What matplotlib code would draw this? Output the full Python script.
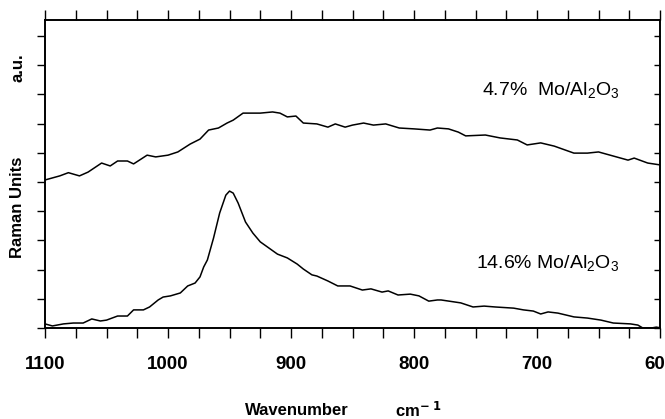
import matplotlib
matplotlib.use('agg')
import matplotlib.pyplot as plt
from matplotlib.ticker import MultipleLocator, NullFormatter

plt.rcParams['font.family'] = ['Liberation Sans', 'DejaVu Sans']
plt.rcParams['mathtext.fontset'] = 'custom'
plt.rcParams['mathtext.rm'] = 'Liberation Sans'
plt.rcParams['mathtext.it'] = 'Liberation Sans'

# 4.7% Mo/Al2O3 spectrum (upper trace)
wn_low_loading = [1100, 1088, 1081, 1072, 1065, 1054, 1047, 1041, 1033, 1028,
                  1017, 1010, 1000, 992, 982, 974, 967, 959, 952, 947,
                  939, 925, 915, 909, 903, 896, 890, 879, 870, 864,
                  856, 850, 841, 833, 823, 812, 800, 787, 781, 772,
                  764, 758, 742, 730, 716, 708, 697, 686, 670, 659,
                  650, 638, 626, 621, 610, 599]
int_low_loading = [5.07, 5.21, 5.32, 5.21, 5.34, 5.65, 5.55, 5.72, 5.72, 5.62,
                   5.92, 5.86, 5.92, 6.03, 6.30, 6.47, 6.78, 6.85, 7.02, 7.12,
                   7.36, 7.36, 7.40, 7.36, 7.23, 7.26, 7.02, 6.99, 6.88, 6.99,
                   6.88, 6.95, 7.02, 6.95, 6.99, 6.85, 6.82, 6.78, 6.85, 6.82,
                   6.71, 6.58, 6.61, 6.51, 6.44, 6.27, 6.34, 6.23, 5.99, 5.99,
                   6.03, 5.89, 5.75, 5.82, 5.65, 5.58]

# 14.6% Mo/Al2O3 spectrum (lower trace)
wn_high_loading = [1100, 1094, 1085, 1077, 1069, 1062, 1055, 1050, 1041, 1033,
                   1028, 1020, 1015, 1008, 1004, 998, 990, 984, 978, 974,
                   971, 968, 963, 958, 953, 950, 947, 943, 937, 931,
                   925, 917, 911, 903, 895, 890, 883, 879, 870, 862,
                   852, 842, 835, 826, 821, 813, 803, 796, 788, 781,
                   778, 762, 752, 743, 734, 719, 711, 703, 697, 691,
                   683, 670, 659, 648, 638, 624, 618, 614, 607, 603, 599]
int_high_loading = [0.14, 0.07, 0.14, 0.17, 0.17, 0.31, 0.24, 0.27, 0.41, 0.41,
                    0.62, 0.62, 0.72, 0.96, 1.06, 1.10, 1.20, 1.44, 1.54, 1.75,
                    2.09, 2.33, 3.08, 3.94, 4.55, 4.69, 4.62, 4.28, 3.63, 3.25,
                    2.95, 2.71, 2.53, 2.40, 2.19, 2.02, 1.82, 1.78, 1.61, 1.44,
                    1.44, 1.30, 1.34, 1.23, 1.27, 1.13, 1.16, 1.10, 0.92, 0.96,
                    0.96, 0.86, 0.72, 0.75, 0.72, 0.68, 0.62, 0.58, 0.48, 0.55,
                    0.51, 0.38, 0.34, 0.27, 0.17, 0.14, 0.10, 0.00, 0.00, 0.03, 0.00]

labels = [r'4.7%  Mo/Al$_2$O$_3$', r'14.6% Mo/Al$_2$O$_3$']
label_pos = [(633, 8.15), (633, 2.23)]

fig = plt.figure(figsize=(6.65, 4.19), dpi=100)
ax = fig.add_axes([0.0677, 0.2172, 0.9248, 0.7351])

ax.plot(wn_low_loading, int_low_loading, color='black', lw=1.1)
ax.plot(wn_high_loading, int_high_loading, color='black', lw=1.1)

for text, (x, y) in zip(labels, label_pos):
    ax.text(x, y, text, fontsize=14, ha='right', va='center')

ax.set_xlim(1100, 600)
ax.set_ylim(0, 10.55)

ax.xaxis.set_major_locator(MultipleLocator(100))
ax.xaxis.set_minor_locator(MultipleLocator(25))
ax.yaxis.set_major_locator(MultipleLocator(1))
ax.yaxis.set_major_formatter(NullFormatter())

ax.tick_params(axis='x', which='both', top=True, direction='out', length=7,
               width=1.0, pad=13, labelsize=13.5)
ax.tick_params(axis='y', which='major', left=True, right=False, direction='out',
               length=6, width=1.0)
for lab in ax.get_xticklabels():
    lab.set_fontweight('bold')

# right-hand ticks point inwards
ax2 = ax.twinx()
ax2.set_ylim(ax.get_ylim())
ax2.yaxis.set_major_locator(MultipleLocator(1))
ax2.yaxis.set_major_formatter(NullFormatter())
ax2.tick_params(axis='y', direction='in', length=4, width=1.0)

for a in (ax, ax2):
    for s in a.spines.values():
        s.set_linewidth(1.2)

fig.text(297 / 665, 1 - 410 / 419, 'Wavenumber', fontsize=12, fontweight='bold',
         ha='center', va='center')
fig.text(395 / 665, 1 - 410 / 419, r'cm$^{\mathbf{-\ 1}}$', fontsize=12,
         fontweight='bold', ha='left', va='center')
fig.text(18 / 665, 1 - 207 / 419, 'Raman Units', fontsize=12, fontweight='bold',
         rotation=90, ha='center', va='center')
fig.text(18 / 665, 1 - 68 / 419, 'a.u.', fontsize=12, fontweight='bold',
         rotation=90, ha='center', va='center')

fig.savefig('out.png', dpi=100)
